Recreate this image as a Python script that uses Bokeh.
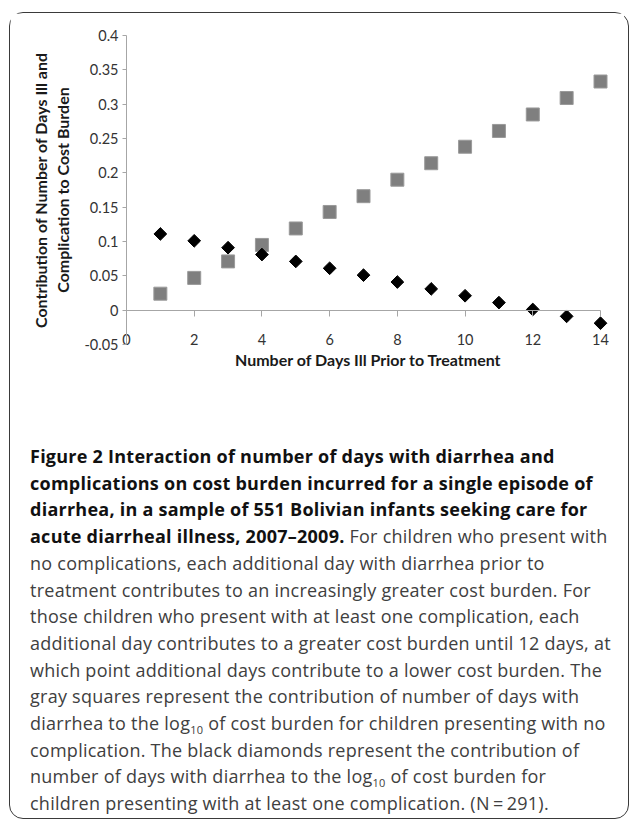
import math
from bokeh.plotting import figure
from bokeh.models import FixedTicker, Div, LinearAxis
from bokeh.layouts import column
from bokeh.embed import file_html
from bokeh.resources import INLINE

# ---- data ----
days = [1, 2, 3, 4, 5, 6, 7, 8, 9, 10, 11, 12, 13, 14]
no_complication = [0.024, 0.047, 0.071, 0.095, 0.119, 0.143, 0.166,
                   0.190, 0.214, 0.238, 0.261, 0.285, 0.309, 0.333]
with_complication = [0.111, 0.101, 0.091, 0.081, 0.071, 0.061, 0.051,
                     0.041, 0.031, 0.021, 0.011, 0.001, -0.009, -0.019]
x_ticks = [0, 2, 4, 6, 8, 10, 12, 14]
y_ticks = [-0.05, 0.0, 0.05, 0.1, 0.15, 0.2, 0.25, 0.3, 0.35, 0.4]
y_tick_labels = ["-0.05", "0", "0.05", "0.1", "0.15", "0.2", "0.25", "0.3", "0.35", "0.4"]
x_title = "Number of Days Ill Prior to Treatment"
y_title = "Contribution of Number of Days Ill and\nComplication to Cost Burden"

FONT = "Lato"
AXIS_GRAY = "#a6a6a6"
LABEL_GRAY = "#333333"

AXIS_PX = 474      # pixels between x = 0 and x = 14
FRAME_W = 484      # a little extra room so the last markers are not clipped
x_min, x_max = x_ticks[0], x_ticks[-1]
x_end = x_min + (x_max - x_min) * FRAME_W / AXIS_PX
y_min, y_max = y_ticks[0], y_ticks[-1]

p = figure(frame_width=FRAME_W, frame_height=309,
           x_range=(x_min, x_end), y_range=(y_min, y_max),
           output_backend="svg", toolbar_location=None,
           min_border_left=116, min_border_right=14,
           min_border_top=22, min_border_bottom=56,
           background_fill_color="white", border_fill_color="white")
p.outline_line_color = None
p.xgrid.visible = False
p.ygrid.visible = False

# gray squares: no complication
p.scatter(days, no_complication, marker="square", size=13,
          fill_color="#7f7f7f", line_color="#9a9a9a", line_width=1)
# black diamonds: at least one complication
p.scatter(days, with_complication, marker="square", size=9, angle=math.pi / 4,
          fill_color="black", line_color="black", line_width=1)

# bottom axis: labels + title only (Excel "low" label position)
xa = p.xaxis[0]
xa.ticker = FixedTicker(ticks=x_ticks)
xa.axis_line_color = None
xa.major_tick_line_color = None
xa.minor_tick_line_color = None
xa.major_tick_in = 0
xa.major_tick_out = 0
xa.major_label_standoff = -11
xa.major_label_text_font = FONT
xa.major_label_text_font_size = "14.5px"
xa.major_label_text_color = LABEL_GRAY
xa.axis_label = x_title
xa.axis_label_text_font = FONT
xa.axis_label_text_font_style = "bold"
xa.axis_label_text_font_size = "16px"
xa.axis_label_text_color = "#1a1a1a"
xa.axis_label_standoff = 2

# axis line + ticks crossing at y = 0
x0axis = LinearAxis(fixed_location=0, ticker=FixedTicker(ticks=x_ticks),
                    bounds=(x_min, x_max))
x0axis.axis_line_color = AXIS_GRAY
x0axis.major_tick_line_color = AXIS_GRAY
x0axis.minor_tick_line_color = None
x0axis.major_tick_in = 0
x0axis.major_tick_out = 6
x0axis.major_label_text_font_size = "0px"
x0axis.major_label_text_alpha = 0
p.add_layout(x0axis, "below")

ya = p.yaxis[0]
ya.ticker = FixedTicker(ticks=y_ticks)
ya.bounds = (y_min, y_max)
ya.major_label_overrides = {t: l for t, l in zip(y_ticks, y_tick_labels)}
ya.minor_tick_line_color = None
ya.major_tick_in = 0
ya.major_tick_out = 4
ya.axis_line_color = AXIS_GRAY
ya.major_tick_line_color = AXIS_GRAY
ya.major_label_standoff = 4
ya.major_label_text_font = FONT
ya.major_label_text_font_size = "14.5px"
ya.major_label_text_color = LABEL_GRAY
ya.axis_label = y_title
ya.axis_label_text_font = FONT
ya.axis_label_text_font_style = "bold"
ya.axis_label_text_font_size = "16px"
ya.axis_label_text_color = "#1a1a1a"
ya.axis_label_standoff = 9

SUB = "<span style='font-size:11px; position:relative; top:4px; line-height:0'>10</span>"
caption_lines = [
    "<b>Figure 2 Interaction of number of days with diarrhea and</b>",
    "<b>complications on cost burden incurred for a single episode of</b>",
    "<b>diarrhea, in a sample of 551 Bolivian infants seeking care for</b>",
    "<b>acute diarrheal illness, 2007–2009.</b> For children who present with",
    "no complications, each additional day with diarrhea prior to",
    "treatment contributes to an increasingly greater cost burden. For",
    "those children who present with at least one complication, each",
    "additional day contributes to a greater cost burden until 12 days, at",
    "which point additional days contribute to a lower cost burden. The",
    "gray squares represent the contribution of number of days with",
    "diarrhea to the log" + SUB + " of cost burden for children presenting with no",
    "complication. The black diamonds represent the contribution of",
    "number of days with diarrhea to the log" + SUB + " of cost burden for",
    "children presenting with at least one complication. (N\u2009=\u2009291).",
]
caption_html = (
    "<div style=\"font-family: 'Open Sans', sans-serif; font-size:18px; "
    "letter-spacing:0.25px; line-height:26.7px; color:#404040; white-space:nowrap; "
    "padding-left:15px; padding-top:38px; margin:0;\">"
    + "<br>".join(l.replace("<b>", "<b style='color:#111; font-weight:700'>") for l in caption_lines)
    + "</div>"
)
caption = Div(text=caption_html, width=614, height=408,
              styles={"overflow": "visible"})

layout = column(p, caption, margin=(12, 0, 0, 9), width=620,
                styles={"border": "1.5px solid #3a3a3a", "border-radius": "14px",
                        "background": "white", "box-sizing": "border-box"})

open("out.html", "w").write(file_html(layout, INLINE))
